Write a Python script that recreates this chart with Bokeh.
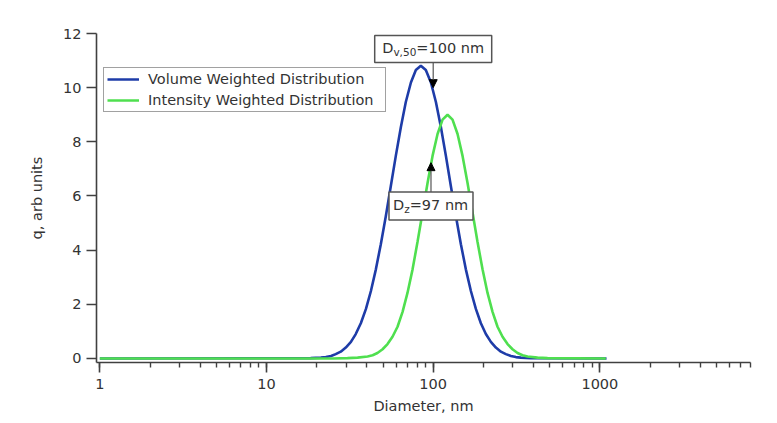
from bokeh.plotting import figure
from bokeh.models import (Range1d, NumeralTickFormatter, Legend, LegendItem, Label,
                          Arrow, NormalHead, SingleIntervalTicker)
from bokeh.embed import file_html
from bokeh.resources import INLINE

# ---- data (diameter in nm, q in arb units) ----
vol_d = [1, 18.4, 21.2, 22.7, 24.4, 26.0, 27.9, 29.9, 32.1, 34.3, 36.8, 39.5, 42.3, 45.3,
         48.5, 52.0, 55.7, 59.7, 64.0, 68.5, 73.5, 78.7, 84.3, 90.3, 96.9, 103.8, 111.2,
         119.1, 127.6, 136.8, 146.6, 157.0, 168.3, 180.3, 193.2, 207.0, 221.8, 237.7,
         254.7, 272.9, 292.4, 313.3, 335.7, 385.4, 1096]
vol_q = [0, 0.01, 0.03, 0.05, 0.09, 0.16, 0.25, 0.40, 0.61, 0.90, 1.30, 1.83, 2.49, 3.29,
         4.22, 5.26, 6.37, 7.49, 8.55, 9.47, 10.19, 10.65, 10.81, 10.65, 10.19, 9.47, 8.55,
         7.49, 6.37, 5.26, 4.22, 3.29, 2.49, 1.83, 1.30, 0.90, 0.61, 0.40,
         0.25, 0.16, 0.09, 0.05, 0.03, 0.01, 0]

int_d = [1, 25.0, 30.6, 35.2, 40.4, 43.3, 46.3, 49.7, 53.2, 57.0, 61.1, 65.5, 70.1, 75.2,
         80.5, 86.3, 92.5, 99.1, 106.2, 113.8, 121.9, 130.6, 140.0, 150.0, 160.7, 172.2,
         184.5, 197.7, 211.8, 227.0, 243.2, 260.6, 279.3, 299.2, 320.6, 343.6, 368.1,
         422.7, 485.3, 1086]
int_q = [0, 0, 0.01, 0.03, 0.07, 0.12, 0.20, 0.34, 0.53, 0.80, 1.17, 1.72, 2.42, 3.29,
         4.30, 5.39, 6.48, 7.48, 8.29, 8.82, 9.00, 8.82, 8.29, 7.48, 6.48, 5.39,
         4.30, 3.29, 2.42, 1.72, 1.17, 0.80, 0.53, 0.34, 0.20, 0.12, 0.07,
         0.03, 0.01, 0]

series_labels = ["Volume Weighted Distribution", "Intensity Weighted Distribution"]

# annotations: diameter marked, box centre (q), arrow tip (q)
ann_d = [100, 97]
ann_box_q = [11.43, 5.63]
ann_tip_q = [10.0, 7.23]
ann_main = ["=100 nm", "=97 nm"]
ann_sub = ["v,50", "z"]

FONT = "DejaVu Sans"
TXT = "#333333"
BLUE = "#1e3ca8"
GREEN = "#4fdf4f"

p = figure(width=777, height=423, x_axis_type="log", output_backend="svg",
           toolbar_location=None, x_range=Range1d(0.955, 8010), y_range=Range1d(-0.15, 12),
           min_border_left=96, min_border_right=27, min_border_top=33, min_border_bottom=61)
p.outline_line_color = None
p.xgrid.visible = False
p.ygrid.visible = False
p.background_fill_color = "white"
p.border_fill_color = "white"

r1 = p.line(vol_d, vol_q, line_color=BLUE, line_width=2.6)
r2 = p.line(int_d, int_q, line_color=GREEN, line_width=2.6)

# axes
for ax in (p.xaxis[0], p.yaxis[0]):
    ax.axis_line_color = "#404040"
    ax.axis_line_width = 1.6
    ax.major_tick_line_color = "#404040"
    ax.major_tick_line_width = 1.6
    ax.minor_tick_line_color = "#404040"
    ax.minor_tick_line_width = 1.4
    ax.major_tick_in = 0
    ax.minor_tick_in = 0
    ax.major_label_text_font = FONT
    ax.major_label_text_font_size = "14.5px"
    ax.major_label_text_color = TXT
    ax.axis_label_text_font = FONT
    ax.axis_label_text_font_size = "14.5px"
    ax.axis_label_text_font_style = "normal"
    ax.axis_label_text_color = TXT

p.xaxis.axis_label = "Diameter, nm"
p.xaxis.formatter = NumeralTickFormatter(format="0")
p.xaxis.major_tick_out = 10
p.xaxis.minor_tick_out = 5
p.xaxis.major_label_standoff = 6
p.xaxis.axis_label_standoff = 6

p.yaxis.axis_label = "q, arb units"
p.yaxis.ticker = SingleIntervalTicker(interval=2, num_minor_ticks=0)
p.yaxis.major_tick_out = 10
p.yaxis.minor_tick_out = 0
p.yaxis.minor_tick_line_color = None
p.yaxis.major_label_standoff = 5
p.yaxis.axis_label_standoff = 15

legend = Legend(items=[LegendItem(label=series_labels[0], renderers=[r1]),
                       LegendItem(label=series_labels[1], renderers=[r2])],
                location=(7, 250), padding=3, spacing=5, margin=0,
                label_height=16, glyph_height=16, glyph_width=32, label_standoff=9,
                label_width=234,
                label_text_font=FONT, label_text_font_size="14.5px", label_text_color=TXT,
                border_line_color="#444444", border_line_width=1.6,
                background_fill_color="white", background_fill_alpha=1)
p.add_layout(legend)

# annotation boxes
box_w = [117, 84]
box_h = [27, 28]
p.rect(x=ann_d, y=ann_box_q, width=box_w, height=box_h, width_units="screen",
       height_units="screen", fill_color="white", line_color="#555555", line_width=1.5)

text_start = [-51, -38]
d_w = 11.2
sub_w = [22.9, 5.5]
for i in range(2):
    half_px = box_h[i] / 2.0
    scale = 329.0 / 12.15
    dq = half_px / scale
    if ann_tip_q[i] < ann_box_q[i]:
        ystart = ann_box_q[i] - dq
    else:
        ystart = ann_box_q[i] + dq
    p.add_layout(Arrow(x_start=ann_d[i], y_start=ystart, x_end=ann_d[i], y_end=ann_tip_q[i],
                       line_color="#555555", line_width=1.2,
                       end=NormalHead(size=8, fill_color="black", line_color="black", line_width=1)))
    p.add_layout(Label(x=ann_d[i], y=ann_box_q[i], text="D", x_offset=text_start[i], y_offset=1,
                       text_baseline="middle", text_align="left", text_font=FONT,
                       text_font_size="14.5px", text_color=TXT))
    p.add_layout(Label(x=ann_d[i], y=ann_box_q[i], text=ann_sub[i],
                       x_offset=text_start[i] + d_w, y_offset=-3.5,
                       text_baseline="middle", text_align="left", text_font=FONT,
                       text_font_size="10.5px", text_color=TXT))
    p.add_layout(Label(x=ann_d[i], y=ann_box_q[i], text=ann_main[i],
                       x_offset=text_start[i] + d_w + sub_w[i], y_offset=1,
                       text_baseline="middle", text_align="left", text_font=FONT,
                       text_font_size="14.5px", text_color=TXT))

open("out.html", "w").write(file_html(p, INLINE))
